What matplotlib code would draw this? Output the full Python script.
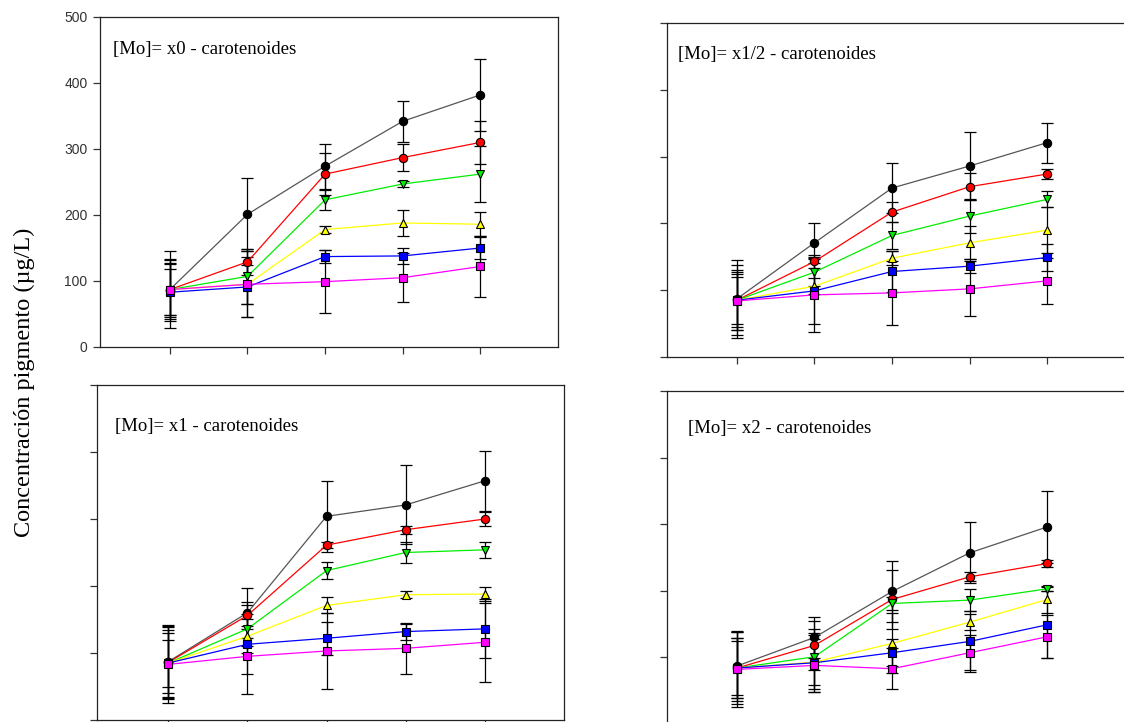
import matplotlib
matplotlib.use("Agg")
import matplotlib.pyplot as plt

# days (x positions of the sampling points)
days = [1, 2, 3, 4, 5]

series_colors = ["black", "red", "#00ee00", "yellow", "blue", "magenta"]
series_markers = ["o", "o", "v", "^", "s", "s"]
line_colors = ["#555555", "red", "#00ee00", "yellow", "blue", "magenta"]

# [Mo] = x0
x0_means = [
    [87, 201, 274, 342, 382],
    [87, 129, 262, 287, 310],
    [87, 107, 223, 247, 262],
    [87, 95, 178, 188, 186],
    [83, 91, 137, 138, 150],
    [87, 95, 99, 105, 122],
]
x0_errs = [
    [58, 55, 34, 31, 55],
    [47, 20, 32, 20, 33],
    [41, 42, 15, 4, 42],
    [39, 30, 5, 20, 18],
    [35, 45, 10, 12, 17],
    [45, 50, 48, 37, 46],
]

# [Mo] = x1/2
x12_means = [
    [87, 171, 253, 286, 321],
    [85, 143, 217, 255, 274],
    [85, 127, 182, 211, 236],
    [85, 106, 148, 171, 190],
    [85, 99, 128, 136, 149],
    [84, 93, 96, 102, 114],
]
x12_errs = [
    [58, 30, 37, 51, 30],
    [52, 10, 15, 20, 8],
    [45, 20, 20, 25, 12],
    [40, 12, 10, 25, 34],
    [35, 50, 30, 10, 20],
    [43, 55, 48, 41, 34],
]

# [Mo] = x1
x1_means = [
    [87, 160, 304, 321, 357],
    [86, 156, 261, 284, 300],
    [85, 136, 223, 250, 254],
    [85, 125, 171, 187, 188],
    [85, 113, 122, 132, 136],
    [83, 95, 103, 107, 116],
]
x1_errs = [
    [55, 37, 53, 59, 45],
    [53, 20, 5, 6, 10],
    [50, 36, 13, 15, 12],
    [45, 15, 12, 5, 10],
    [35, 45, 25, 12, 44],
    [58, 56, 56, 38, 59],
]

# [Mo] = x2
x2_means = [
    [87, 130, 199, 257, 296],
    [84, 118, 187, 221, 241],
    [84, 101, 181, 186, 203],
    [84, 93, 121, 153, 187],
    [84, 92, 107, 124, 149],
    [82, 88, 83, 107, 131],
]
x2_errs = [
    [52, 31, 46, 46, 54],
    [41, 37, 44, 7, 5],
    [45, 42, 10, 16, 3],
    [54, 40, 45, 12, 20],
    [45, 44, 20, 46, 50],
    [56, 40, 31, 26, 32],
]

titles = ["[Mo]= x0 - carotenoides", "[Mo]= x1/2 - carotenoides",
          "[Mo]= x1 - carotenoides", "[Mo]= x2 - carotenoides"]
yticks = [0, 100, 200, 300, 400, 500]

W, H = 1124, 722
fig = plt.figure(figsize=(W / 100, H / 100), dpi=100)


def px_axes(left, top, right, bottom):
    return fig.add_axes([left / W, 1 - bottom / H, (right - left) / W, (bottom - top) / H])


panels = [
    (px_axes(100, 17, 558, 347), x0_means, x0_errs, titles[0], (0.028, 0.90), True),
    (px_axes(667, 23, 1125, 357), x12_means, x12_errs, titles[1], (0.024, 0.905), False),
    (px_axes(97, 385, 564, 720), x1_means, x1_errs, titles[2], (0.038, 0.875), False),
    (px_axes(667, 391, 1125, 724), x2_means, x2_errs, titles[3], (0.046, 0.886), False),
]

for ax, means, errs, title, tpos, show_labels in panels:
    for m, e, c, mk, lc in zip(means, errs, series_colors, series_markers, line_colors):
        ax.errorbar(days, m, yerr=e, fmt="none", ecolor="black", elinewidth=0.9,
                    capsize=4, capthick=0.9, zorder=2)
        ax.plot(days, m, color=lc, lw=0.9, marker=mk, markersize=6,
                markerfacecolor=c, markeredgecolor="black", markeredgewidth=0.8, zorder=3)
    ax.set_xlim(0.1, 6.0)
    ax.set_ylim(0, 500)
    ax.set_xticks(days)
    ax.set_xticklabels([])
    ax.set_yticks(yticks)
    if show_labels:
        ax.set_yticklabels([str(v) for v in yticks], fontsize=10,
                           family="Liberation Sans", color="#333333")
    else:
        ax.set_yticklabels([])
    ax.tick_params(direction="out", length=5, width=0.9, color="#333333", pad=4)
    for sp in ax.spines.values():
        sp.set_linewidth(0.9)
        sp.set_color("#222222")
    ax.text(tpos[0], tpos[1], title, transform=ax.transAxes, ha="left", va="center",
            fontsize=13.5, family="Liberation Serif")

fig.text(0.022, 0.47, "Concentración pigmento (µg/L)", rotation=90, ha="center",
         va="center", fontsize=17.5, family="Liberation Serif")

fig.savefig("out.png", dpi=100)
